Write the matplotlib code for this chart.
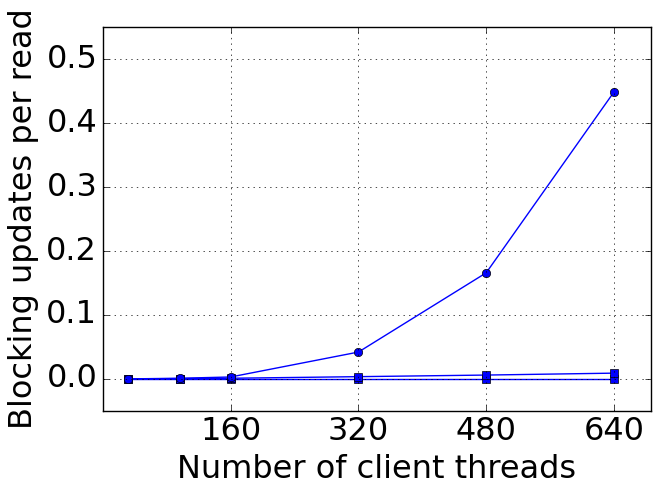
import matplotlib
matplotlib.use("Agg")
import matplotlib.pyplot as plt

plt.style.use('classic')

threads = [32, 96, 160, 320, 480, 640]
blocking_a = [0.0, 0.001, 0.003, 0.042, 0.166, 0.449]
blocking_b = [0.0, 0.0005, 0.001, 0.0035, 0.006, 0.009]
blocking_c = [0.0, 0.0, 0.0, 0.0, 0.0, 0.0]

fig = plt.figure(figsize=(6.64, 4.98), dpi=100, facecolor='white')
ax = fig.add_subplot(111)

ax.plot(threads, blocking_c, 'b-s', markersize=6)
ax.plot(threads, blocking_b, 'b-s', markersize=6)
ax.plot(threads, blocking_a, 'b-o', markersize=6)

ax.set_xlim(0, 686)
ax.set_ylim(-0.05, 0.55)
ax.set_xticks([160, 320, 480, 640])
ax.set_yticks([0.0, 0.1, 0.2, 0.3, 0.4, 0.5])
ax.tick_params(labelsize=23)
ax.grid(True)

ax.set_xlabel('Number of client threads', fontsize=23)
ax.set_ylabel('Blocking updates per read', fontsize=23)

plt.subplots_adjust(left=0.155, right=0.98, bottom=0.175, top=0.945)
plt.savefig('out.png', dpi=100, facecolor='white')
